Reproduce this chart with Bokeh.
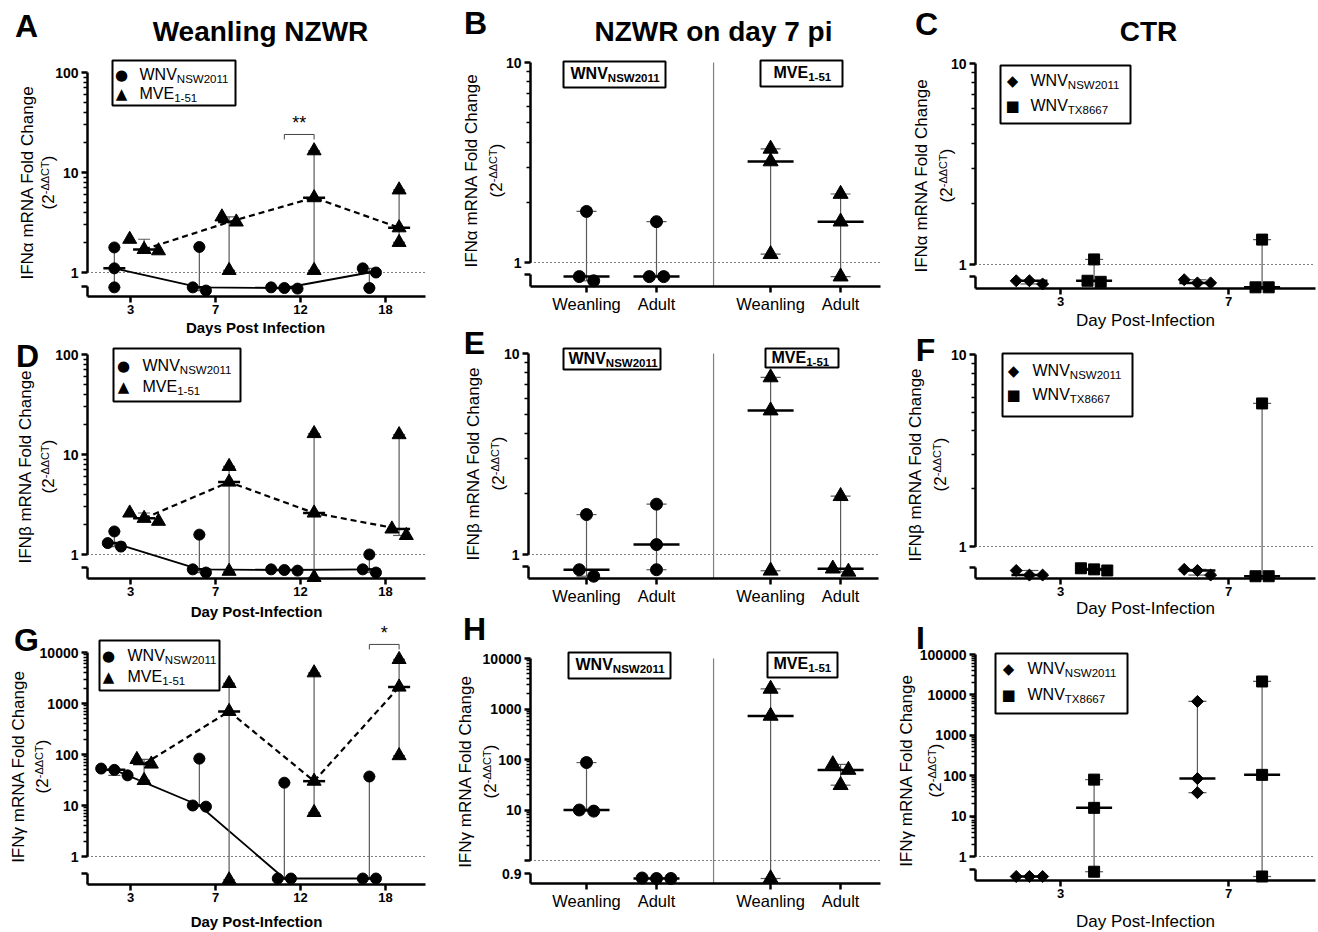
import math
import numpy as np
from bokeh.plotting import figure
from bokeh.models import Range1d, FixedTicker, Label, BoxAnnotation, LogAxis, LinearAxis
from bokeh.layouts import row, column
from bokeh.embed import file_html
from bokeh.resources import INLINE

# ---------------- data (fold change, 3 animals per group) ----------------
DAYS = ["3", "7", "12", "18"]
CTR_DAYS = ["3", "7"]
AGES = ["Weanling", "Adult", "Weanling", "Adult"]

A_WNV = [[1.78, 1.10, 0.71], [1.80, 0.71, 0.66], [0.71, 0.70, 0.69], [1.10, 1.00, 0.70]]
A_MVE = [[2.15, 1.70, 1.65], [3.60, 3.20, 1.05], [16.5, 5.60, 1.05], [6.70, 2.80, 2.00]]
D_WNV = [[1.70, 1.30, 1.20], [1.58, 0.71, 0.66], [0.71, 0.70, 0.69], [1.00, 0.71, 0.66]]
D_MVE = [[2.60, 2.30, 2.15], [7.60, 5.30, 0.68], [16.2, 2.60, 0.59], [15.8, 1.80, 1.55]]
G_WNV = [[53, 50, 39], [83, 10, 9.5], [28, 0.37, 0.37], [37, 0.37, 0.37]]
G_MVE = [[80, 65, 31], [2470, 700, 0.35], [4000, 30, 7.3], [7300, 2100, 95]]

B_WNV = [[1.80, 0.85, 0.81], [1.60, 0.85, 0.85]]
B_MVE = [[3.70, 3.20, 1.10], [2.20, 1.60, 0.85]]
E_WNV = [[1.58, 0.84, 0.78], [1.78, 1.12, 0.84]]
E_MVE = [[7.60, 5.20, 0.83], [1.95, 0.85, 0.82]]
H_WNV = [[87, 10, 9.5], [0.45, 0.44, 0.44]]
H_MVE = [[2500, 730, 0.44], [80, 62, 31]]

C_NSW = [[0.83, 0.83, 0.80], [0.84, 0.81, 0.81]]
C_TX = [[1.06, 0.83, 0.82], [1.33, 0.77, 0.77]]
F_NSW = [[0.75, 0.71, 0.71], [0.76, 0.75, 0.71]]
F_TX = [[0.77, 0.76, 0.75], [5.56, 0.70, 0.70]]
I_NSW = [[0.32, 0.32, 0.32], [6900, 85, 38]]
I_TX = [[80, 16, 0.42], [21500, 105, 0.32]]

SIG_A = ("12", 24, "**")
SIG_G = ("18", 14400, "*")

# ---------------- layout / style ----------------
FONT = "Liberation Sans"
SYM = "DejaVu Sans"
PI = math.pi

# box = canvas (l, t, r, b) on page; axis = (left x, right x, bottom y) on page
GEO = {
    "A": dict(box=(0, 0, 440, 336), axis=(87, 425, 296), top=(100, 72), one=272),
    "D": dict(box=(0, 336, 440, 620), axis=(87, 425, 578), top=(100, 354), one=554),
    "G": dict(box=(0, 620, 440, 932), axis=(87, 425, 884), top=(10000, 652), one=856),
    "B": dict(box=(440, 0, 882, 320), axis=(530, 880, 286), top=(10, 62), one=262),
    "E": dict(box=(440, 320, 882, 608), axis=(528, 878, 578), top=(10, 353), one=554),
    "H": dict(box=(440, 608, 882, 932), axis=(530, 880, 883), top=(10000, 658), one=860),
    "C": dict(box=(882, 0, 1318, 330), axis=(975, 1315, 288), top=(10, 63), one=264),
    "F": dict(box=(882, 330, 1318, 618), axis=(975, 1315, 578), top=(10, 354), one=546),
    "I": dict(box=(882, 618, 1318, 932), axis=(975, 1315, 880), top=(100000, 654), one=856),
}
TIME_X0, TIME_UNIT = 130, 85
CAT_X0, CAT_UNIT = 586, 70
CTR_X0, CTR_UNIT = 1060, 168
TIME_POS = [0, 1, 2, 3]
CAT_POS = [0, 1, 2.63, 3.63]
CAT_SEP = 1.815
CTR_POS = [0, 1]
OFF_TIME = (-0.19, 0.16)
OFF_CTR = (-0.185, 0.2)
LETTER = 32

AW = {'W': 944, 'N': 722, 'V': 667, 'M': 833, 'E': 667, 'S': 667, 'T': 611, 'X': 667,
      '-': 333, '(': 333, ')': 333, 'Δ': 668, 'C': 722}


def tw(s, size):
    return sum(AW.get(c, 556) for c in s) * size / 1000.0


def make_fig(key, x0page, unit):
    g = GEO[key]
    bl, bt, br, bb = g["box"]
    al, ar, ab = g["axis"]
    tv, ty = g["top"]
    one = g["one"]
    ppd = (one - ty) / math.log10(tv)

    def yv(py):
        return 10 ** ((one - py) / ppd)

    def xv(px):
        return (px - x0page) / unit

    p = figure(width=br - bl, height=bb - bt, x_range=Range1d(xv(bl), xv(br)),
               y_range=Range1d(yv(bb), yv(bt)), y_axis_type="log",
               x_axis_location=None, y_axis_location=None, min_border=0,
               output_backend="svg", toolbar_location=None)
    p.xgrid.visible = False
    p.ygrid.visible = False
    p.outline_line_color = None
    g.update(ppd=ppd, ppx=unit, ybot=yv(ab), xl=xv(al), xr=xv(ar))
    return p


def _style(ax):
    ax.axis_line_width = 2.5
    ax.axis_line_color = "black"
    ax.major_tick_line_width = 2.5
    ax.major_tick_out = 6
    ax.major_tick_in = 0
    ax.minor_tick_line_width = 1.5
    ax.minor_tick_out = 4
    ax.minor_tick_in = 0
    ax.major_label_text_font = FONT
    ax.major_label_text_color = "black"


def style_axes(p, key, brk, xticks, xlabels, xsize, xbold, brk_label="", hide_one=False):
    g = GEO[key]
    tv = g["top"][0]
    nd = int(round(math.log10(tv)))
    decades = [10 ** k for k in range(0, nd + 1)]
    minors = [d * m for d in decades[:-1] for m in range(2, 10)]
    ov = {d: str(d) for d in decades}
    if hide_one:
        ov[1] = ""
    # broken y axis: upper segment from 1 upwards, short lower segment below the break
    y_up = LogAxis(fixed_location=g["xl"], bounds=(1, tv),
                   ticker=FixedTicker(ticks=decades, minor_ticks=minors),
                   major_label_overrides=ov)
    y_lo = LogAxis(fixed_location=g["xl"], bounds=(g["ybot"], brk),
                   ticker=FixedTicker(ticks=[brk], minor_ticks=[]),
                   major_label_overrides={brk: brk_label})
    xax = LinearAxis(fixed_location=g["ybot"], bounds=(g["xl"], g["xr"]),
                     ticker=FixedTicker(ticks=list(xticks), minor_ticks=[]),
                     major_label_overrides={t: l for t, l in zip(xticks, xlabels)})
    for ax in (y_up, y_lo):
        _style(ax)
        ax.major_label_standoff = 3
        ax.major_label_text_font_size = "14px"
        ax.major_label_text_font_style = "bold"
    _style(xax)
    xax.major_label_standoff = 2
    xax.major_label_text_font_size = f"{xsize}px"
    xax.major_label_text_font_style = "bold" if xbold else "normal"
    p.add_layout(y_up, "left")
    p.add_layout(y_lo, "left")
    p.add_layout(xax, "below")
    # dotted reference line at fold change = 1
    p.segment(x0=[g["xl"]], y0=[1], x1=[g["xr"]], y1=[1], line_color="black",
              line_width=1.2, line_dash="1 3")


def txt(p, key, px, py, text, size, bold=False, font=FONT, align="center", baseline="middle",
        angle=0.0):
    bl, bt, br, bb = GEO[key]["box"]
    p.add_layout(Label(x=px - bl, y=bb - py, x_units="screen", y_units="screen", text=text,
                       text_font=font, text_font_size=f"{size}px",
                       text_font_style="bold" if bold else "normal", text_align=align,
                       text_baseline=baseline, angle=angle, text_color="black"))


def add_box(p, key, l, t, r, b, lw=2):
    bl, bt, br, bb = GEO[key]["box"]
    p.add_layout(BoxAnnotation(left=l - bl, right=r - bl, top=bb - t, bottom=bb - b,
                               left_units="screen", right_units="screen",
                               top_units="screen", bottom_units="screen",
                               fill_color="white", fill_alpha=1.0,
                               line_color="black", line_alpha=1.0, line_width=lw))


def ylabel(p, key, gene, x1, x2, cy):
    txt(p, key, x1, cy, f"{gene} mRNA Fold Change", 17, angle=PI / 2)
    s1, s2 = 17, 11
    a, b, c = "(2", "-ΔΔCT", ")"
    w = tw(a, s1) + tw(b, s2) + tw(c, s1)
    y0 = cy + w / 2
    txt(p, key, x2, y0, a, s1, align="left", angle=PI / 2)
    txt(p, key, x2 - 4, y0 - tw(a, s1), b, s2, align="left", angle=PI / 2)
    txt(p, key, x2, y0 - tw(a, s1) - tw(b, s2), c, s1, align="left", angle=PI / 2)


def sub_text(p, key, x, y, main, sub, size, ssize, bold=False):
    txt(p, key, x, y, main, size, bold=bold, align="left")
    txt(p, key, x + tw(main, size), y + 4, sub, ssize, bold=bold, align="left")


def legend(p, key, box, rows):
    add_box(p, key, *box)
    for sym, mx, y, main, sub, tx in rows:
        txt(p, key, mx, y, sym, 15, font=SYM)
        sub_text(p, key, tx, y, main, sub, 16, 11.5)


def swarm(vals, cx, ppx, ppd, vsize):
    vals = np.asarray(vals, float)
    order = list(np.argsort(-vals))
    ly = np.log10(vals) * ppd
    xs = np.full(len(vals), float(cx))
    clusters, cur = [], [order[0]]
    for i in order[1:]:
        if ly[cur[-1]] - ly[i] < vsize * 0.9:
            cur.append(i)
        else:
            clusters.append(cur)
            cur = [i]
    clusters.append(cur)
    step = vsize * 1.2
    for cl in clusters:
        n = len(cl)
        for k, i in enumerate(cl):
            xs[i] = cx + (k - (n - 1) / 2) * step / ppx
    return xs


def draw_group(p, key, cx, vals, marker, size, vsize, med_px, cap_px, angle=0.0):
    g = GEO[key]
    ppx, ppd = g["ppx"], g["ppd"]
    xs = swarm(vals, cx, ppx, ppd, vsize)
    lo, hi, med = min(vals), max(vals), float(np.median(vals))
    gray = "#5a5a5a"
    p.segment(x0=[cx], y0=[lo], x1=[cx], y1=[hi], line_color=gray, line_width=1.2)
    cw = cap_px / 2 / ppx
    p.segment(x0=[cx - cw, cx - cw], y0=[lo, hi], x1=[cx + cw, cx + cw], y1=[lo, hi],
              line_color=gray, line_width=1.2)
    p.scatter(list(xs), list(vals), marker=marker, size=size, color="black", angle=angle)
    mw = med_px / 2 / ppx
    p.segment(x0=[cx - mw], y0=[med], x1=[cx + mw], y1=[med], line_color="black", line_width=2.5)


def bracket(p, key, x0, x1, level, text, drop_px=5):
    ppd = GEO[key]["ppd"]
    ylow = level / 10 ** (drop_px / ppd)
    p.line([x0, x0, x1, x1], [ylow, level, level, ylow], line_color="#444444", line_width=1)
    p.add_layout(Label(x=(x0 + x1) / 2, y=level, text=text, text_align="center",
                       text_baseline="bottom", y_offset=1, text_font=FONT,
                       text_font_size="18px", text_color="black"))


# ---------------- time-course panels ----------------
def time_panel(key, wnv, mve, gene, brk, letter, leg_box, leg_rows, ylab, xlab, sig=None):
    p = make_fig(key, TIME_X0, TIME_UNIT)
    style_axes(p, key, brk, TIME_POS, DAYS, 13, True)
    specs = [(wnv, "circle", 11, 11, OFF_TIME[0], "solid", 1.8),
             (mve, "triangle", 14, 12, OFF_TIME[1], "6 4", 2.2)]
    for vals, marker, size, vsize, off, dash, lw in specs:
        xs = [pos + off for pos in TIME_POS]
        meds = [float(np.median(v)) for v in vals]
        p.line(xs, meds, line_color="black", line_width=lw, line_dash=dash)
    for vals, marker, size, vsize, off, dash, lw in specs:
        for pos, v in zip(TIME_POS, vals):
            draw_group(p, key, pos + off, v, marker, size, vsize, 22, 12)
    if sig is not None:
        gi = DAYS.index(sig[0])
        bracket(p, key, TIME_POS[gi] + OFF_TIME[0], TIME_POS[gi] + OFF_TIME[1], sig[1], sig[2])
    legend(p, key, leg_box, leg_rows)
    ylabel(p, key, gene, *ylab)
    txt(p, key, xlab[0], xlab[1], xlab[2], 15, bold=True)
    txt(p, key, letter[0], letter[1], letter[2], LETTER, bold=True)
    return p


pA = time_panel("A", A_WNV, A_MVE, "IFNα", 0.72, (26, 25, "A"),
                (112, 60, 235, 105),
                [("●", 121, 74, "WNV", "NSW2011", 139), ("▲", 121, 93, "MVE", "1-51", 139)],
                (27, 48, 182), (255, 327, "Days Post Infection"), sig=SIG_A)
txt(pA, "A", 260, 31, "Weanling NZWR", 28, bold=True)

pD = time_panel("D", D_WNV, D_MVE, "IFNβ", 0.74, (27, 355, "D"),
                (113, 348, 240, 401),
                [("●", 123, 365, "WNV", "NSW2011", 142), ("▲", 123, 386, "MVE", "1-51", 142)],
                (25, 48, 466), (256, 611, "Day Post-Infection"))

pG = time_panel("G", G_WNV, G_MVE, "IFNγ", 0.46, (26, 639, "G"),
                (99, 640, 219, 690),
                [("●", 108, 655, "WNV", "NSW2011", 127), ("▲", 108, 676, "MVE", "1-51", 127)],
                (18, 42, 766), (256, 921, "Day Post-Infection"), sig=SIG_G)


# ---------------- day-7 age panels ----------------
def age_panel(key, wnv, mve, gene, brk, letter, boxes, ylab, brk_label="", hide_one=False):
    p = make_fig(key, CAT_X0, CAT_UNIT)
    g = GEO[key]
    style_axes(p, key, brk, CAT_POS, AGES, 16.5, False, brk_label=brk_label, hide_one=hide_one)
    p.segment(x0=[CAT_SEP], y0=[g["ybot"]], x1=[CAT_SEP], y1=[g["top"][0]],
              line_color="#808080", line_width=1.2)
    for vals, pos, marker, size, vsize in [(wnv, CAT_POS[:2], "circle", 12, 12),
                                           (mve, CAT_POS[2:], "triangle", 15, 13)]:
        for cx, v in zip(pos, vals):
            draw_group(p, key, cx, v, marker, size, vsize, 46, 20)
    for (l, t, r, b), (main, sub, tx, ty) in boxes:
        add_box(p, key, l, t, r, b, lw=2)
        sub_text(p, key, tx, ty, main, sub, 16, 11.5, bold=True)
    ylabel(p, key, gene, *ylab)
    txt(p, key, letter[0], letter[1], letter[2], LETTER, bold=True)
    return p


pB = age_panel("B", B_WNV, B_MVE, "IFNα", 0.87, (475, 22, "B"),
               [((563, 61, 665, 87), ("WNV", "NSW2011", 570, 73)),
                ((760, 60, 842, 86), ("MVE", "1-51", 773, 72))],
               (471, 496, 170))
txt(pB, "B", 713, 31, "NZWR on day 7 pi", 28, bold=True)

pE = age_panel("E", E_WNV, E_MVE, "IFNβ", 0.87, (474, 342, "E"),
               [((563, 348, 660, 369), ("WNV", "NSW2011", 568, 358)),
                ((765, 348, 838, 367), ("MVE", "1-51", 771, 357))],
               (473, 498, 463))

pH = age_panel("H", H_WNV, H_MVE, "IFNγ", 0.55, (474, 628, "H"),
               [((568, 652, 670, 678), ("WNV", "NSW2011", 575, 664)),
                ((767, 652, 837, 677), ("MVE", "1-51", 773, 663))],
               (465, 490, 771), brk_label="0.9", hide_one=True)


# ---------------- CTR panels ----------------
def ctr_panel(key, nsw, tx, gene, brk, letter, leg_box, leg_rows, ylab, xlab):
    p = make_fig(key, CTR_X0, CTR_UNIT)
    style_axes(p, key, brk, CTR_POS, CTR_DAYS, 13, True)
    for vals, off, marker, size, vsize, ang in [(nsw, OFF_CTR[0], "square", 8.5, 11, PI / 4),
                                                (tx, OFF_CTR[1], "square", 11, 11, 0.0)]:
        for pos, v in zip(CTR_POS, vals):
            draw_group(p, key, pos + off, v, marker, size, vsize, 36, 18, angle=ang)
    legend(p, key, leg_box, leg_rows)
    ylabel(p, key, gene, *ylab)
    txt(p, key, xlab[0], xlab[1], xlab[2], 17)
    txt(p, key, letter[0], letter[1], letter[2], LETTER, bold=True)
    return p


pC = ctr_panel("C", C_NSW, C_TX, "IFNα", 0.87, (926, 23, "C"),
               (1000, 65, 1130, 123),
               [("◆", 1012, 80, "WNV", "NSW2011", 1030), ("■", 1012, 105, "WNV", "TX8667", 1030)],
               (921, 946, 175), (1145, 320, "Day Post-Infection"))
txt(pC, "C", 1148, 31, "CTR", 28, bold=True)

pF = ctr_panel("F", F_NSW, F_TX, "IFNβ", 0.78, (925, 349, "F"),
               (1002, 353, 1132, 416),
               [("◆", 1013, 370, "WNV", "NSW2011", 1032), ("■", 1013, 394, "WNV", "TX8667", 1032)],
               (915, 940, 464), (1145, 608, "Day Post-Infection"))

pI = ctr_panel("I", I_NSW, I_TX, "IFNγ", 0.48, (920, 637, "I"),
               (995, 653, 1127, 713),
               [("◆", 1008, 668, "WNV", "NSW2011", 1027), ("■", 1008, 694, "WNV", "TX8667", 1027)],
               (906, 935, 770), (1145, 921, "Day Post-Infection"))

layout = row(column(pA, pD, pG), column(pB, pE, pH), column(pC, pF, pI))
open("out.html", "w").write(file_html(layout, INLINE))
